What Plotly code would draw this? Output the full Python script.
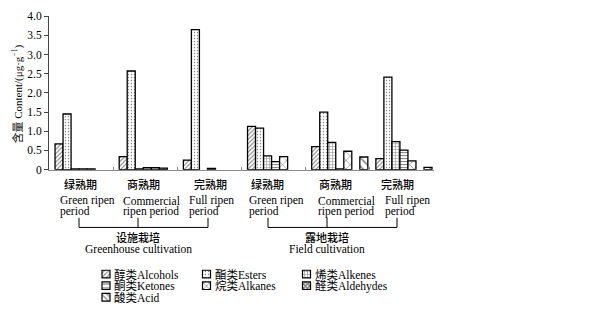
import plotly.graph_objects as go

W, H = 602, 322

# ---------------- data ----------------
groups_cn = ["绿熟期", "商熟期", "完熟期", "绿熟期", "商熟期", "完熟期"]
groups_en1 = ["Green ripen", "Commercial", "Full ripen", "Green ripen", "Commercial", "Full ripen"]
groups_en2 = ["period", "ripen period", "period", "period", "ripen period", "period"]
cultivation_cn = ["设施栽培", "露地栽培"]
cultivation_en = ["Greenhouse cultivation", "Field cultivation"]

series_names = ["醇类Alcohols", "酯类Esters", "烯类Alkenes", "酮类Ketones",
                "烷类Alkanes", "醛类Aldehydes", "酸类Acid"]
alcohols = [0.67, 0.34, 0.25, 1.13, 0.60, 0.29]
esters = [1.45, 2.57, 3.65, 1.08, 1.50, 2.41]
alkenes = [0.02, 0.02, None, 0.36, 0.71, 0.73]
ketones = [0.02, 0.05, 0.03, 0.21, 0.02, 0.51]
alkanes = [0.02, 0.05, None, 0.34, 0.48, 0.23]
aldehydes = [None, 0.04, None, None, None, None]
acid = [None, None, None, None, 0.33, 0.06]
series_values = [alcohols, esters, alkenes, ketones, alkanes, aldehydes, acid]

y_ticks = [0, 0.5, 1.0, 1.5, 2.0, 2.5, 3.0, 3.5, 4.0]
y_ticktext = ["0", "0.5", "1.0", "1.5", "2.0", "2.5", "3.0", "3.5", "4.0"]

# ---------------- styles ----------------
patterns = [
    dict(shape="/", size=3, solidity=0.35),
    dict(shape=".", size=3, solidity=0.18),
    dict(shape="+", size=3, solidity=0.3),
    dict(shape="-", size=3, solidity=0.35),
    dict(shape="x", size=6, solidity=0.2),
    dict(shape="x", size=3, solidity=0.7),
    dict(shape="\\", size=6, solidity=0.25),
]
icon_patterns = [
    dict(shape="/", size=3, solidity=0.35),
    dict(shape=".", size=3, solidity=0.18),
    dict(shape="+", size=3, solidity=0.3),
    dict(shape="-", size=4, solidity=0.3),
    dict(shape="x", size=4, solidity=0.3),
    dict(shape="x", size=3, solidity=0.7),
    dict(shape="\\", size=4, solidity=0.3),
]
SERIF = "Liberation Serif, Times New Roman, Noto Sans CJK SC, serif"
CJK = "Noto Sans CJK SC, sans-serif"


def px(x):
    return x / W


def py(y):
    return 1 - y / H


# plot area in pixels
X0, X1 = 49, 434
Y0, Y1 = 170, 10.5

n_groups = len(groups_cn)
n_series = len(series_names)
slot = 0.125
start = 0.094

fig = go.Figure()
for k, (name, vals) in enumerate(zip(series_names, series_values)):
    fig.add_trace(go.Bar(
        x=list(range(n_groups)), y=vals, name=name,
        offset=start + slot * k, width=slot,
        marker=dict(color="white",
                    pattern=dict(fgcolor="black", bgcolor="white", **patterns[k]),
                    line=dict(color="black", width=1.3)),
        showlegend=False,
    ))

# ---------------- manual legend (icons are bars on a pixel-scaled hidden axis) ----
leg_cols = [102, 202.5, 302.5]
leg_rows = [278.5, 290.5, 302.5]
icon = 8
annotations = []
for k, name in enumerate(series_names):
    col = k % 3
    row = k // 3
    lx = leg_cols[col]
    ly = leg_rows[row]
    fig.add_trace(go.Bar(
        x=[lx], y=[icon], base=[ly - icon / 2], offset=0, width=icon,
        xaxis="x2", yaxis="y2", showlegend=False,
        marker=dict(color="white",
                    pattern=dict(fgcolor="black", bgcolor="white", **icon_patterns[k]),
                    line=dict(color="black", width=1.2)),
        hoverinfo="skip",
    ))
    annotations.append(dict(
        x=px(lx + icon + 2), y=py(ly), xref="paper", yref="paper",
        text=name, showarrow=False, xanchor="left", yanchor="middle",
        font=dict(family=SERIF, size=11.5, color="black"),
    ))

# ---------------- category labels ----------------
cn_x = [80, 143, 210, 267, 335, 397]
en_x = [58, 121, 187, 247, 316, 383]
for i in range(n_groups):
    annotations.append(dict(x=px(cn_x[i]), y=py(185), xref="paper", yref="paper",
                            text=groups_cn[i], showarrow=False, xanchor="center",
                            yanchor="middle",
                            font=dict(family=CJK, size=11, color="black", weight=500)))
    annotations.append(dict(x=px(en_x[i]), y=py(202.5), xref="paper", yref="paper",
                            text=groups_en1[i], showarrow=False, xanchor="left",
                            yanchor="middle", font=dict(family=SERIF, size=11.5, color="black")))
    annotations.append(dict(x=px(en_x[i]), y=py(213.5), xref="paper", yref="paper",
                            text=groups_en2[i], showarrow=False, xanchor="left",
                            yanchor="middle", font=dict(family=SERIF, size=11.5, color="black")))

# brackets
brackets = [(79, 138, 208), (268, 327, 397)]
shapes = []
for (a, m, b), ccn, cen in zip(brackets, cultivation_cn, cultivation_en):
    for xv in (a, m, b):
        shapes.append(dict(type="line", xref="paper", yref="paper",
                           x0=px(xv), x1=px(xv), y0=py(220), y1=py(230),
                           line=dict(color="black", width=1)))
    shapes.append(dict(type="line", xref="paper", yref="paper",
                       x0=px(a), x1=px(b), y0=py(230), y1=py(230),
                       line=dict(color="black", width=1)))
    annotations.append(dict(x=px(m), y=py(240), xref="paper", yref="paper",
                            text=ccn, showarrow=False, xanchor="center", yanchor="middle",
                            font=dict(family=CJK, size=11, color="black", weight=500)))
    annotations.append(dict(x=px(m), y=py(252), xref="paper", yref="paper",
                            text=cen, showarrow=False, xanchor="center", yanchor="middle",
                            font=dict(family=SERIF, size=11.5, color="black")))

# y title
annotations.append(dict(x=px(18), y=py(92), xref="paper", yref="paper",
                        text="含量 Content/(μg·g<sup>−1</sup>)", textangle=-90,
                        showarrow=False, xanchor="center", yanchor="middle",
                        font=dict(family=SERIF, size=11, color="black")))

fig.update_layout(
    width=W, height=H,
    margin=dict(l=0, r=0, t=0, b=0),
    paper_bgcolor="white", plot_bgcolor="rgba(0,0,0,0)",
    barmode="overlay",
    showlegend=False,
    xaxis=dict(domain=[px(X0), px(X1)], range=[0, n_groups],
               showline=True, linecolor="#8a8a8a", linewidth=1.2,
               ticks="inside", ticklen=3, tickcolor="#8a8a8a",
               tickvals=list(range(1, n_groups + 1)),
               showticklabels=False, showgrid=False, zeroline=False, fixedrange=True),
    yaxis=dict(domain=[py(Y0), py(Y1)], range=[0, 4],
               showline=True, linecolor="#444", linewidth=1,
               ticks="outside", ticklen=4, tickcolor="#444",
               tickvals=y_ticks, ticktext=y_ticktext,
               tickfont=dict(family=SERIF, size=11.5, color="black"),
               showgrid=False, zeroline=False, fixedrange=True),
    xaxis2=dict(domain=[0, 1], range=[0, W], visible=False, fixedrange=True),
    yaxis2=dict(domain=[0, 1], range=[H, 0], visible=False, fixedrange=True),
    annotations=annotations,
    shapes=shapes,
)

fig.write_html("out.html", config={"displayModeBar": False},
               post_script="document.body.style.margin='0';document.body.style.overflow='hidden';")
